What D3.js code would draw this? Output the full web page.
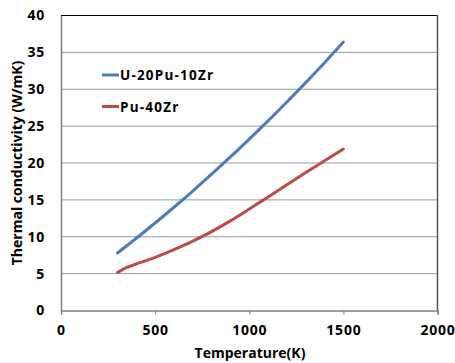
<!DOCTYPE html>
<html>
<head>
<meta charset="utf-8">
<script src="https://cdn.jsdelivr.net/npm/d3@7"></script>
<style>
  html, body { margin: 0; padding: 0; background: #fff; }
  svg text { font-family: "Open Sans", "Noto Sans", sans-serif; font-weight: bold; fill: #000; }
</style>
</head>
<body>
<svg id="chart" width="455" height="363"></svg>
<script>
// Thermal conductivity vs. temperature for two alloys
const temperatureBlue = [300, 400, 500, 600, 700, 800, 900, 1000, 1100, 1200, 1300, 1400, 1500];
const conductivityBlue = [7.8, 9.8, 11.86, 14.0, 16.2, 18.48, 20.82, 23.24, 25.72, 28.28, 30.9, 33.6, 36.4];
const temperatureRed = [300, 350, 400, 500, 600, 700, 800, 900, 1000, 1100, 1200, 1300, 1400, 1500];
const conductivityRed = [5.15, 5.85, 6.3, 7.2, 8.25, 9.4, 10.7, 12.15, 13.75, 15.4, 17.05, 18.7, 20.3, 21.9];
const seriesNames = ["U-20Pu-10Zr", "Pu-40Zr"];
const seriesColors = ["#4a7ebb", "#be4b48"];
const xTicks = [0, 500, 1000, 1500, 2000];
const yTicks = [0, 5, 10, 15, 20, 25, 30, 35, 40];

const svg = d3.select("#chart");
const plotLeft = 61, plotRight = 437.5, plotTop = 15.5, plotBottom = 310.5;

const x = d3.scaleLinear().domain([0, 2000]).range([plotLeft, plotRight]);
const y = d3.scaleLinear().domain([0, 40]).range([plotBottom, plotTop]);

// horizontal gridlines
svg.append("g")
  .selectAll("line")
  .data(yTicks.filter(v => v > 0 && v < 40))
  .join("line")
  .attr("x1", plotLeft).attr("x2", plotRight)
  .attr("y1", d => y(d)).attr("y2", d => y(d))
  .attr("stroke", "#9a9a9a").attr("stroke-width", 1);

// frame: top border and right border
svg.append("line").attr("x1", plotLeft).attr("x2", plotRight).attr("y1", y(40)).attr("y2", y(40))
  .attr("stroke", "#000").attr("stroke-width", 1.2);
svg.append("line").attr("x1", plotRight).attr("x2", plotRight).attr("y1", plotTop).attr("y2", plotBottom)
  .attr("stroke", "#555").attr("stroke-width", 1.5);

// x axis
const xAxis = svg.append("g")
  .attr("transform", `translate(0,${plotBottom})`)
  .call(d3.axisBottom(x).tickValues(xTicks).tickSize(4).tickPadding(11).tickFormat(d3.format("d")));
xAxis.select(".domain").attr("stroke", "#7f7f7f").attr("stroke-width", 1.5);
xAxis.selectAll(".tick line").attr("stroke", "#7f7f7f");
xAxis.selectAll("text").style("font-size", "14px").style("letter-spacing", "0.8px");

// y axis
const yAxis = svg.append("g")
  .attr("transform", `translate(${plotLeft},0)`)
  .call(d3.axisLeft(y).tickValues(yTicks).tickSize(0).tickPadding(16));
yAxis.select(".domain").attr("stroke", "#7f7f7f").attr("stroke-width", 1.5);
yAxis.selectAll("text").style("font-size", "14px").style("letter-spacing", "0.8px");

// axis titles
svg.append("text")
  .attr("x", 250).attr("y", 358)
  .attr("text-anchor", "middle")
  .style("font-size", "14px")
  .text("Temperature(K)");
svg.append("text")
  .attr("transform", "translate(22,163) rotate(-90)")
  .attr("text-anchor", "middle")
  .style("font-size", "14px")
  .text("Thermal conductivity (W/mK)");

// curves
const line = d3.line().x(d => x(d[0])).y(d => y(d[1])).curve(d3.curveCatmullRom.alpha(0.5));
const series = [
  d3.zip(temperatureBlue, conductivityBlue),
  d3.zip(temperatureRed, conductivityRed)
];
svg.append("g")
  .selectAll("path")
  .data(series)
  .join("path")
  .attr("d", line)
  .attr("fill", "none")
  .attr("stroke", (d, i) => seriesColors[i])
  .attr("stroke-width", 3)
  .attr("stroke-linecap", "round");

// legend
const legend = svg.append("g");
seriesNames.forEach((name, i) => {
  const ly = 75 + i * 31.5;
  legend.append("line")
    .attr("x1", 102).attr("x2", 119).attr("y1", ly).attr("y2", ly)
    .attr("stroke", seriesColors[i]).attr("stroke-width", 3);
  legend.append("text")
    .attr("x", 120).attr("y", ly + 5)
    .style("font-size", "13.5px")
    .style("letter-spacing", "1.2px")
    .text(name);
});
</script>
</body>
</html>
